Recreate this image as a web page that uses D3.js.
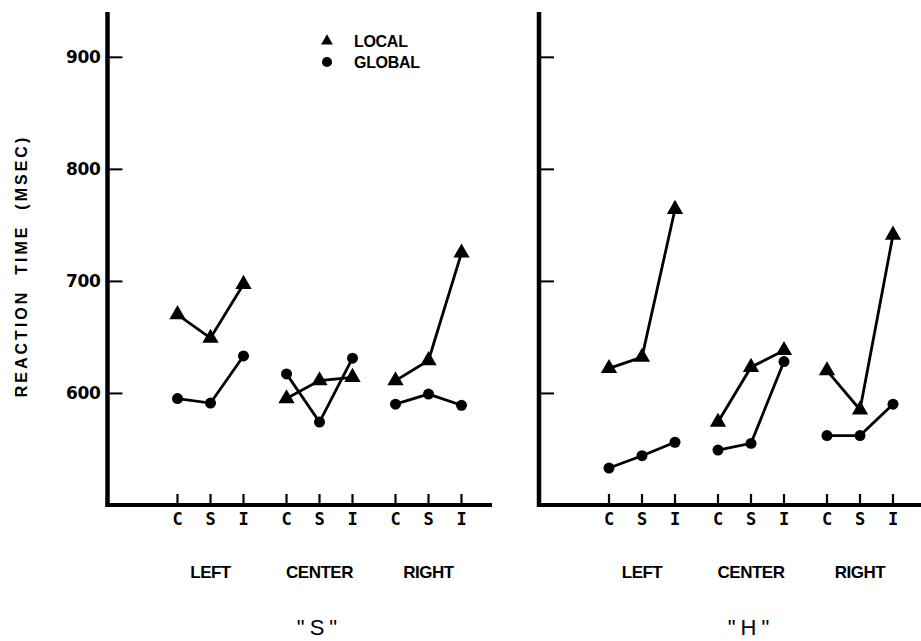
<!DOCTYPE html>
<html>
<head>
<meta charset="utf-8">
<script src="https://cdn.jsdelivr.net/npm/d3@7"></script>
<style>
  html, body { margin: 0; padding: 0; background: #fff; }
  svg { display: block; }
</style>
</head>
<body>
<svg id="chart" width="921" height="641"></svg>
<script>
// ---- data ----
const locations = ["LEFT", "CENTER", "RIGHT"];
const conditions = ["C", "S", "I"];
const yTicks = [600, 700, 800, 900];
const panelTitles = ['"S"', '"H"'];
const legendLabels = ["LOCAL", "GLOBAL"];
// values per location, in condition order C, S, I
const sLocal  = [[670, 649, 697], [595, 611, 614], [611, 629, 725]];
const sGlobal = [[595, 591, 633], [617, 574, 631], [590, 599, 589]];
const hLocal  = [[622, 632, 764], [574, 623, 638], [620, 585, 741]];
const hGlobal = [[533, 544, 556], [549, 555, 628], [562, 562, 590]];

const svg = d3.select("#chart");
const ink = "#000";

const y = d3.scaleLinear().domain([500, 940]).range([505, 12]);

function drawPanel(x0, xEnd, local, global, title, showLabels) {
  const g = svg.append("g");
  const gx = d3.scaleBand().domain(locations).range([x0 + 53, x0 + 53 + 327]);
  const cx = d3.scalePoint().domain(conditions).range([17, 83]);
  const xPos = (loc, c) => gx(loc) + cx(c);

  // y axis ticks (pointing inward) + labels
  const yAxis = d3.axisLeft(y).tickValues(yTicks).tickSizeInner(-15).tickSizeOuter(0)
    .tickPadding(7).tickFormat(showLabels ? d3.format("d") : () => "");
  const ya = g.append("g").attr("transform", `translate(${x0},0)`).call(yAxis);
  ya.select(".domain").remove();
  ya.selectAll(".tick line").attr("stroke", ink).attr("stroke-width", 2);
  ya.selectAll(".tick text").attr("fill", ink)
    .style("font-family", "DejaVu Sans, sans-serif").style("font-weight", "bold")
    .style("font-size", "17px").style("letter-spacing", "-0.3px");

  // axis lines
  g.append("line").attr("x1", x0).attr("x2", x0).attr("y1", y(940)).attr("y2", y(500) + 2)
    .attr("stroke", ink).attr("stroke-width", 4.5);
  g.append("line").attr("x1", x0 - 2).attr("x2", xEnd).attr("y1", y(500)).attr("y2", y(500))
    .attr("stroke", ink).attr("stroke-width", 4);

  // x ticks and labels
  const ticks = [];
  locations.forEach(l => conditions.forEach(c => ticks.push({ l, c })));
  g.selectAll(".xt").data(ticks).join("line")
    .attr("x1", d => xPos(d.l, d.c)).attr("x2", d => xPos(d.l, d.c))
    .attr("y1", y(500)).attr("y2", y(500) - 11)
    .attr("stroke", ink).attr("stroke-width", 2.2);
  g.selectAll(".xl").data(ticks).join("text")
    .attr("x", d => xPos(d.l, d.c)).attr("y", 525)
    .attr("text-anchor", "middle")
    .style("font-family", "DejaVu Sans Mono, monospace").style("font-weight", "bold")
    .style("font-size", "17px").text(d => d.c);
  g.selectAll(".gl").data(locations).join("text")
    .attr("x", d => xPos(d, "S")).attr("y", 578)
    .attr("text-anchor", "middle")
    .style("font-family", "Liberation Sans, Arial, sans-serif").style("font-weight", "bold")
    .style("font-size", "17px").style("letter-spacing", "-0.5px").text(d => d);

  // panel title
  g.append("text").attr("x", xPos("CENTER", "S")).attr("y", 635)
    .attr("text-anchor", "middle")
    .style("font-family", "Liberation Sans, Arial, sans-serif")
    .style("font-size", "22px").style("letter-spacing", "5px").text(title);

  const line = d3.line().x(d => xPos(d.l, d.c)).y(d => y(d.v));
  function series(vals, sym) {
    vals.forEach((arr, i) => {
      const pts = arr.map((v, j) => ({ l: locations[i], c: conditions[j], v }));
      g.append("path").datum(pts).attr("d", line)
        .attr("fill", "none").attr("stroke", ink).attr("stroke-width", 2.8);
      g.selectAll(null).data(pts).join("path")
        .attr("transform", d => `translate(${xPos(d.l, d.c)},${y(d.v)})`)
        .attr("d", d3.symbol().type(sym).size(sym === d3.symbolTriangle ? 115 : 95))
        .attr("fill", ink);
    });
  }
  series(local, d3.symbolTriangle);
  series(global, d3.symbolCircle);
}

drawPanel(107.5, 492, sLocal, sGlobal, panelTitles[0], true);
drawPanel(539, 921, hLocal, hGlobal, panelTitles[1], false);

// y axis title
svg.append("text")
  .attr("transform", "translate(27,266) rotate(-90)")
  .attr("text-anchor", "middle")
  .style("font-family", "Liberation Sans, Arial, sans-serif").style("font-weight", "bold")
  .style("font-size", "16px").style("letter-spacing", "3px")
  .attr("xml:space", "preserve")
  .text("REACTION  TIME  (MSEC)");

// legend
const legend = svg.append("g");
const legSyms = [d3.symbolTriangle, d3.symbolCircle];
legendLabels.forEach((lab, i) => {
  const ly = 41 + i * 21;
  legend.append("path").attr("transform", `translate(327,${ly})`)
    .attr("d", d3.symbol().type(legSyms[i]).size(i === 0 ? 60 : 80)).attr("fill", ink);
  legend.append("text").attr("x", 354).attr("y", ly + 6)
    .style("font-family", "Liberation Sans, Arial, sans-serif").style("font-weight", "bold")
    .style("font-size", "16px").style("letter-spacing", "-0.3px").text(lab);
});
</script>
</body>
</html>
